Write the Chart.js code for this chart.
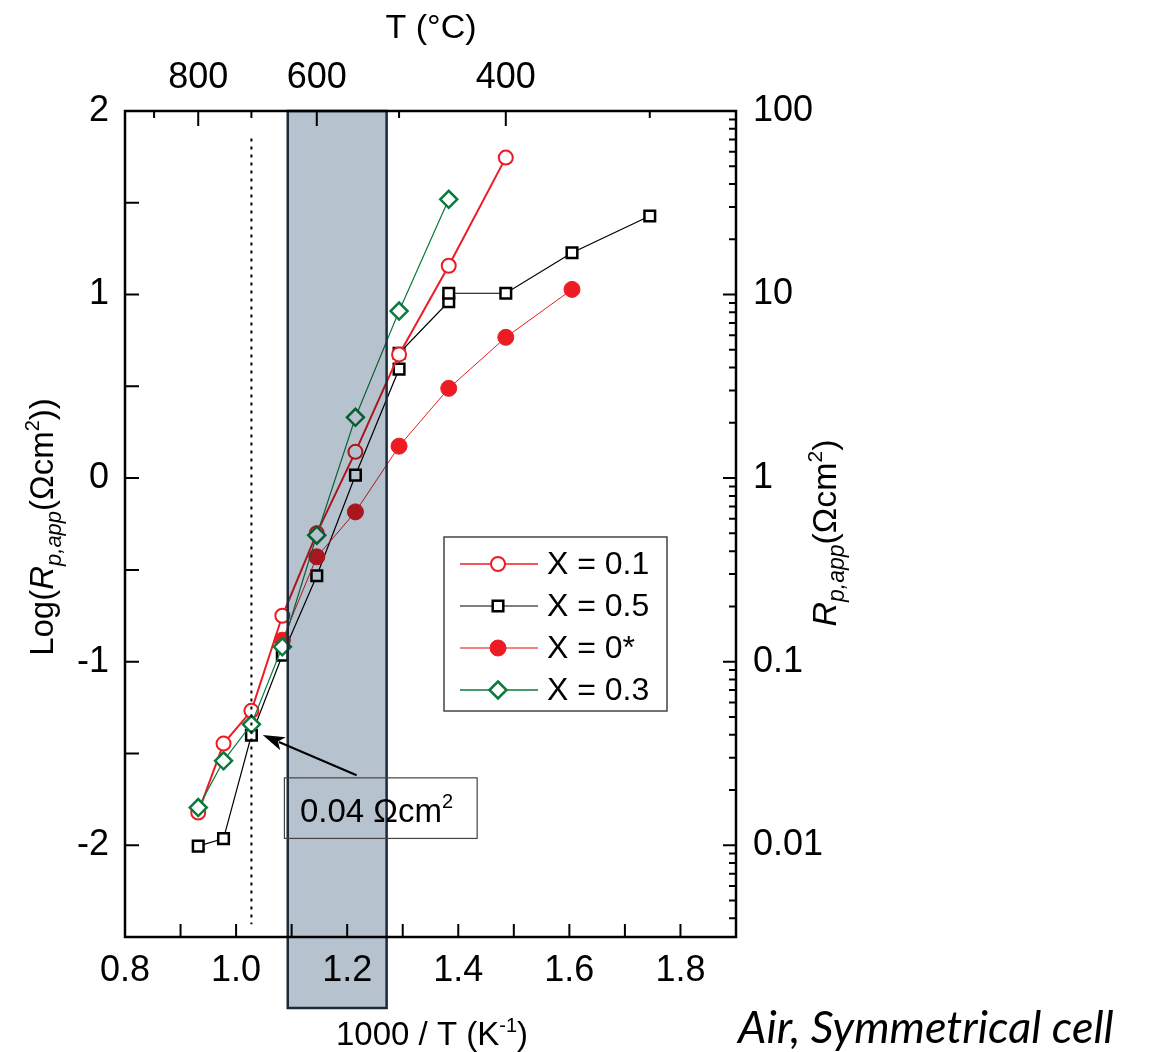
<!DOCTYPE html>
<html>
<head>
<meta charset="utf-8">
<script src="https://cdn.jsdelivr.net/npm/chart.js@4.4.0/dist/chart.umd.min.js"></script>
<style>
html,body{margin:0;padding:0;background:#fff;}
#wrap{position:relative;width:1158px;height:1052px;}
</style>
</head>
<body>
<div id="wrap"><canvas id="c" width="1158" height="1052"></canvas></div>
<script>
// ---------------- DATA (temperature in °C, values = log10(Rp,app / Ωcm²)) ----------------
const T_x01   = [800, 750, 700, 650, 600, 550, 500, 450, 400];
const logR_x01 = [-1.822, -1.446, -1.268, -0.750, -0.300, 0.143, 0.674, 1.157, 1.746];

const T_x05   = [800, 750, 700, 650, 600, 550, 500, 500, 450, 450, 400, 350, 300];
const logR_x05 = [-2.005, -1.964, -1.401, -0.965, -0.532, 0.016, 0.594, 0.680, 0.961, 1.007, 1.007, 1.228, 1.428];

const T_x00   = [650, 600, 550, 500, 450, 400, 350];
const logR_x00 = [-0.883, -0.429, -0.184, 0.174, 0.489, 0.767, 1.028];

const T_x03   = [800, 750, 700, 650, 600, 550, 500, 450];
const logR_x03 = [-1.795, -1.540, -1.341, -0.919, -0.311, 0.331, 0.910, 1.519];

const seriesLabels = ['X = 0.1', 'X = 0.5', 'X = 0*', 'X = 0.3'];

// ---------------- TICKS ----------------
const X_TICK_LABELS = [0.8, 1.0, 1.2, 1.4, 1.6, 1.8];
const X_MINOR_STEP = 0.1;
const Y_TICK_LABELS = [-2, -1, 0, 1, 2];
const Y_MINOR_STEP = 0.5;
const TOP_T_LABELS = [800, 600, 400];
const TOP_T_MINOR = [900, 700, 500, 300];
const RIGHT_TICK_LABELS = [0.01, 0.1, 1, 10, 100];

// ---------------- ANNOTATIONS (in data units) ----------------
const BAND_X = [1.093, 1.271];
const DOTTED_T = 700;
const DOTTED_Y = [1.85, -2.43];
const NOTE_TEXT = '0.04 Ωcm';
const NOTE_BOX = {x0: 1.087, x1: 1.434, y0: -1.633, y1: -1.963};
const NOTE_TEXT_POS = {x: 1.115, y: -1.875};
const ARROW_TAIL = {x: 1.217, y: -1.619};
const ARROW_TIP = {x: 1.048, y: -1.400};

const toInv = t => 1000 / (t + 273.15);
const pts = (T, v) => T.map((t, i) => ({x: toInv(t), y: v[i]}));

const RED = '#ed1c24', GREEN = '#0a7a3c';
const FONT = 'Liberation Sans, Arial, sans-serif';

const datasets = [
  {label: seriesLabels[0], data: pts(T_x01, logR_x01), borderColor: RED, borderWidth: 2,
   pointStyle: 'circle', pointRadius: 7, pointBorderWidth: 2, pointBorderColor: RED,
   pointBackgroundColor: '#ffffff', order: 1, legendLine: RED},
  {label: seriesLabels[1], data: pts(T_x05, logR_x05), borderColor: '#000000', borderWidth: 1.2,
   pointStyle: 'rect', pointRadius: 7.5, pointBorderWidth: 2.5, pointBorderColor: '#000000',
   pointBackgroundColor: '#ffffff', order: 3, legendLine: '#555555'},
  {label: seriesLabels[2], data: pts(T_x00, logR_x00), borderColor: RED, borderWidth: 1,
   pointStyle: 'circle', pointRadius: 8, pointBorderWidth: 1, pointBorderColor: RED,
   pointBackgroundColor: RED, order: 2, legendLine: '#f05a5a'},
  {label: seriesLabels[3], data: pts(T_x03, logR_x03), borderColor: GREEN, borderWidth: 1.2,
   pointStyle: 'rectRot', pointRadius: 8.5, pointBorderWidth: 2.5, pointBorderColor: GREEN,
   pointBackgroundColor: '#ffffff', order: 0, legendLine: GREEN}
];
datasets.forEach(d => { d.showLine = true; d.fill = false; d.tension = 0; d.xAxisID = 'x'; d.yAxisID = 'y'; });

function drawMarker(ctx, ds, x, y) {
  ctx.save();
  ctx.lineWidth = ds.pointBorderWidth;
  ctx.strokeStyle = ds.pointBorderColor;
  ctx.fillStyle = ds.pointBackgroundColor;
  const r = ds.pointRadius;
  ctx.beginPath();
  if (ds.pointStyle === 'circle') {
    ctx.arc(x, y, r, 0, Math.PI * 2);
  } else if (ds.pointStyle === 'rect') {
    const s = r * Math.SQRT1_2;
    ctx.rect(x - s, y - s, 2 * s, 2 * s);
  } else {
    ctx.moveTo(x - r, y); ctx.lineTo(x, y - r); ctx.lineTo(x + r, y); ctx.lineTo(x, y + r); ctx.closePath();
  }
  ctx.fill(); ctx.stroke();
  ctx.restore();
}

function drawRich(ctx, segs, x, y, align) {
  let w = 0;
  segs.forEach(s => { ctx.font = s.font; w += ctx.measureText(s.t).width; });
  let cx = align === 'center' ? x - w / 2 : x;
  ctx.textAlign = 'left';
  ctx.textBaseline = 'alphabetic';
  segs.forEach(s => {
    ctx.font = s.font;
    ctx.fillText(s.t, cx, y + (s.dy || 0));
    cx += ctx.measureText(s.t).width;
  });
}

const decorPlugin = {
  id: 'decor',
  beforeDraw(chart) {
    const ctx = chart.ctx;
    ctx.save();
    ctx.fillStyle = '#ffffff';
    ctx.fillRect(0, 0, chart.width, chart.height);
    ctx.restore();
  },
  afterDatasetsDraw(chart) {
    const ctx = chart.ctx;
    const xs = chart.scales.x, ys = chart.scales.y, xt = chart.scales.xTop, yr = chart.scales.yR;
    const a = chart.chartArea;

    // shaded band (multiplied over the marks)
    const bx0 = xs.getPixelForValue(BAND_X[0]), bx1 = xs.getPixelForValue(BAND_X[1]);
    const bandBottom = a.bottom + 71;
    ctx.save();
    ctx.globalCompositeOperation = 'multiply';
    ctx.fillStyle = '#b6c2cd';
    ctx.fillRect(bx0, a.top, bx1 - bx0, bandBottom - a.top);
    ctx.restore();
    ctx.save();
    ctx.strokeStyle = '#1b2a3b';
    ctx.lineWidth = 2.5;
    ctx.strokeRect(bx0, a.top, bx1 - bx0, bandBottom - a.top);
    ctx.restore();

    // dotted vertical line
    ctx.save();
    ctx.strokeStyle = '#000';
    ctx.lineWidth = 2;
    ctx.setLineDash([3, 5]);
    const dx = xs.getPixelForValue(toInv(DOTTED_T));
    ctx.beginPath();
    ctx.moveTo(dx, ys.getPixelForValue(DOTTED_Y[0]));
    ctx.lineTo(dx, ys.getPixelForValue(DOTTED_Y[1]));
    ctx.stroke();
    ctx.restore();

    // plot frame
    ctx.save();
    ctx.strokeStyle = '#000';
    ctx.lineWidth = 2.5;
    ctx.strokeRect(a.left, a.top, a.right - a.left, a.bottom - a.top);

    // inward ticks
    ctx.lineWidth = 2;
    ctx.beginPath();
    for (let v = 0.8 + X_MINOR_STEP; v < 1.9 - 1e-6; v += X_MINOR_STEP) {
      const px = xs.getPixelForValue(v);
      ctx.moveTo(px, a.bottom); ctx.lineTo(px, a.bottom - 13);
    }
    TOP_T_LABELS.forEach(t => { const px = xt.getPixelForValue(toInv(t)); ctx.moveTo(px, a.top); ctx.lineTo(px, a.top + 15); });
    TOP_T_MINOR.forEach(t => { const px = xt.getPixelForValue(toInv(t)); ctx.moveTo(px, a.top); ctx.lineTo(px, a.top + 7); });
    for (let v = -2.5 + Y_MINOR_STEP; v < 2 - 1e-6; v += Y_MINOR_STEP) {
      const py = ys.getPixelForValue(v);
      ctx.moveTo(a.left, py); ctx.lineTo(a.left + 14, py);
    }
    for (let e = -3; e <= 1; e++) {
      for (let k = 1; k <= 9; k++) {
        const val = k * Math.pow(10, e);
        if (val < yr.min * 1.0001 || val > yr.max * 0.9999) continue;
        const py = yr.getPixelForValue(val);
        const len = k === 1 ? 13 : 7;
        ctx.moveTo(a.right, py); ctx.lineTo(a.right - len, py);
      }
    }
    ctx.stroke();
    ctx.restore();

    // annotation box + arrow
    ctx.save();
    const bxa = xs.getPixelForValue(NOTE_BOX.x0), bxb = xs.getPixelForValue(NOTE_BOX.x1);
    const bya = ys.getPixelForValue(NOTE_BOX.y0), byb = ys.getPixelForValue(NOTE_BOX.y1);
    ctx.strokeStyle = '#444';
    ctx.lineWidth = 1.2;
    ctx.strokeRect(bxa, bya, bxb - bxa, byb - bya);
    ctx.fillStyle = '#000';
    drawRich(ctx, [
      {t: NOTE_TEXT, font: '33px ' + FONT},
      {t: '2', font: '20px ' + FONT, dy: -14}
    ], xs.getPixelForValue(NOTE_TEXT_POS.x), ys.getPixelForValue(NOTE_TEXT_POS.y), 'left');
    const tx = xs.getPixelForValue(ARROW_TAIL.x), ty = ys.getPixelForValue(ARROW_TAIL.y);
    const hx = xs.getPixelForValue(ARROW_TIP.x), hy = ys.getPixelForValue(ARROW_TIP.y);
    const ang = Math.atan2(hy - ty, hx - tx);
    const hl = 22, hw = 7;
    ctx.strokeStyle = '#000';
    ctx.lineWidth = 2;
    ctx.beginPath();
    ctx.moveTo(tx, ty);
    ctx.lineTo(hx - hl * 0.8 * Math.cos(ang), hy - hl * 0.8 * Math.sin(ang));
    ctx.stroke();
    ctx.beginPath();
    ctx.moveTo(hx, hy);
    ctx.lineTo(hx - hl * Math.cos(ang) + hw * Math.sin(ang), hy - hl * Math.sin(ang) - hw * Math.cos(ang));
    ctx.lineTo(hx - hl * 0.75 * Math.cos(ang), hy - hl * 0.75 * Math.sin(ang));
    ctx.lineTo(hx - hl * Math.cos(ang) - hw * Math.sin(ang), hy - hl * Math.sin(ang) + hw * Math.cos(ang));
    ctx.closePath();
    ctx.fill();
    ctx.restore();

    // legend
    ctx.save();
    const L = {x: 444, y: 537, w: 223, h: 174, row0: 564, dy: 42};
    ctx.strokeStyle = '#444';
    ctx.lineWidth = 1.5;
    ctx.strokeRect(L.x, L.y, L.w, L.h);
    chart.data.datasets.forEach((ds, i) => {
      const ry = L.row0 + i * L.dy;
      ctx.strokeStyle = ds.legendLine;
      ctx.lineWidth = 1.5;
      ctx.beginPath();
      ctx.moveTo(L.x + 16, ry); ctx.lineTo(L.x + 94, ry);
      ctx.stroke();
      drawMarker(ctx, ds, L.x + 54, ry);
      ctx.fillStyle = '#000';
      ctx.font = '32px ' + FONT;
      ctx.textAlign = 'left';
      ctx.textBaseline = 'middle';
      ctx.fillText(ds.label, L.x + 103, ry + 1);
    });
    ctx.restore();
  },
  afterDraw(chart) {
    const ctx = chart.ctx;
    ctx.save();
    ctx.fillStyle = '#000';
    // top title
    ctx.font = '34px ' + FONT;
    ctx.textAlign = 'center';
    ctx.textBaseline = 'alphabetic';
    ctx.fillText('T (°C)', 431, 38);
    // bottom title
    drawRich(ctx, [
      {t: '1000 / T (K', font: '33px ' + FONT},
      {t: '-1', font: '20px ' + FONT, dy: -13},
      {t: ')', font: '33px ' + FONT}
    ], 432, 1045, 'center');
    // left title
    ctx.save();
    ctx.translate(53, 527);
    ctx.rotate(-Math.PI / 2);
    drawRich(ctx, [
      {t: 'Log(', font: '33px ' + FONT},
      {t: 'R', font: 'italic 33px ' + FONT},
      {t: 'p,app', font: 'italic 22px ' + FONT, dy: 8},
      {t: '(Ωcm', font: '33px ' + FONT},
      {t: '2', font: '20px ' + FONT, dy: -14},
      {t: '))', font: '33px ' + FONT}
    ], 0, 0, 'center');
    ctx.restore();
    // right title
    ctx.save();
    ctx.translate(836, 533);
    ctx.rotate(-Math.PI / 2);
    drawRich(ctx, [
      {t: 'R', font: 'italic 34px ' + FONT},
      {t: 'p,app', font: 'italic 23px ' + FONT, dy: 8},
      {t: '(Ωcm', font: '34px ' + FONT},
      {t: '2', font: '21px ' + FONT, dy: -14},
      {t: ')', font: '34px ' + FONT}
    ], 0, 0, 'center');
    ctx.restore();
    // caption
    ctx.font = 'italic 45px Lato, "Open Sans", sans-serif';
    ctx.textAlign = 'left';
    ctx.fillText('Air, Symmetrical cell', 738, 1043, 390);
    ctx.restore();
  }
};

const tickFont = {family: FONT, size: 36};

new Chart(document.getElementById('c'), {
  type: 'scatter',
  data: {datasets},
  options: {
    responsive: false,
    animation: false,
    events: [],
    layout: {padding: 0},
    plugins: {legend: {display: false}, tooltip: {enabled: false}},
    scales: {
      x: {
        type: 'linear', position: 'bottom', min: 0.8, max: 1.9,
        grid: {display: false, drawTicks: false}, border: {display: false},
        afterBuildTicks: s => { s.ticks = X_TICK_LABELS.map(v => ({value: v})); },
        ticks: {autoSkip: false, maxRotation: 0, padding: 12, color: '#000', font: tickFont,
                callback: v => Number(v).toFixed(1)},
        afterFit: s => { s.height = 115; }
      },
      xTop: {
        type: 'linear', position: 'top', min: 0.8, max: 1.9,
        grid: {display: false, drawTicks: false}, border: {display: false},
        afterBuildTicks: s => { s.ticks = TOP_T_LABELS.map(t => ({value: toInv(t)})); },
        ticks: {autoSkip: false, maxRotation: 0, padding: 11, color: '#000', font: tickFont,
                callback: v => String(Math.round(1000 / v - 273.15))},
        afterFit: s => { s.height = 111; }
      },
      y: {
        type: 'linear', position: 'left', min: -2.5, max: 2,
        grid: {display: false, drawTicks: false}, border: {display: false},
        afterBuildTicks: s => { s.ticks = Y_TICK_LABELS.map(v => ({value: v})); },
        ticks: {autoSkip: false, padding: 16, color: '#000', font: tickFont,
                callback: v => (v < 0 ? '-' + Math.abs(v) : String(v))},
        afterFit: s => { s.width = 125; }
      },
      yR: {
        type: 'logarithmic', position: 'right', min: Math.pow(10, -2.5), max: 100,
        grid: {display: false, drawTicks: false}, border: {display: false},
        afterBuildTicks: s => { s.ticks = RIGHT_TICK_LABELS.map(v => ({value: v})); },
        ticks: {autoSkip: false, padding: 17, color: '#000', font: tickFont,
                callback: v => String(v)},
        afterFit: s => { s.width = 1158 - 736; }
      }
    }
  },
  plugins: [decorPlugin]
});
</script>
</body>
</html>
